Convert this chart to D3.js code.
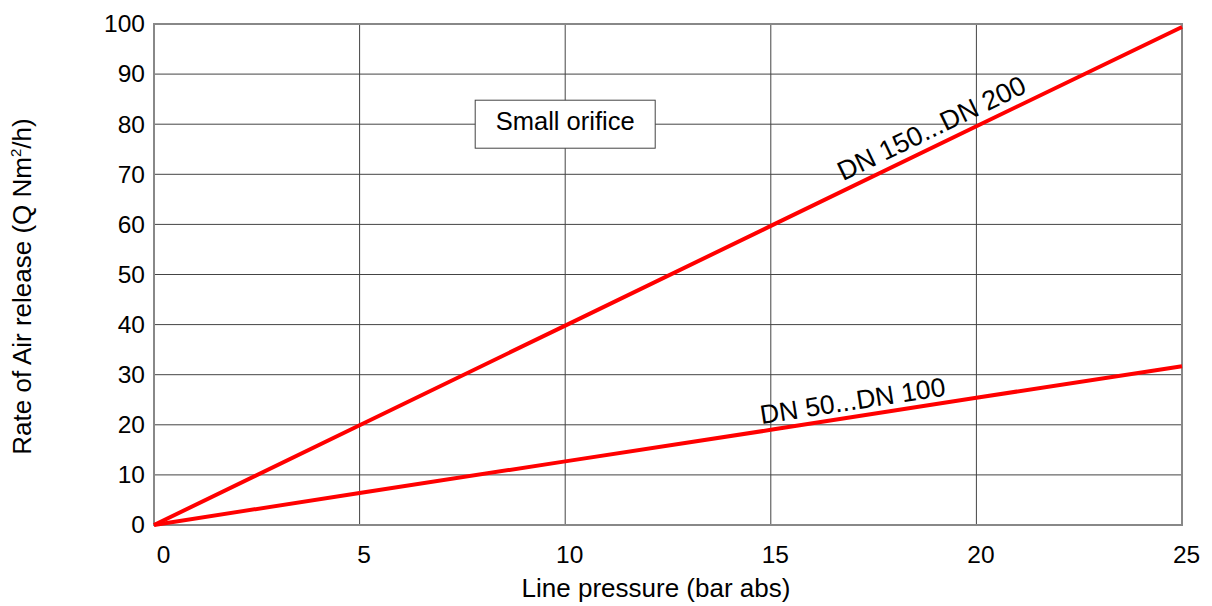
<!DOCTYPE html>
<html>
<head>
<meta charset="utf-8">
<script src="https://cdn.jsdelivr.net/npm/d3@7"></script>
<style>
  body { margin: 0; background: #fff; }
  text { font-family: "Liberation Sans", Arial, sans-serif; fill: #000; }
</style>
</head>
<body>
<div id="chart"></div>
<script>
let width = 1212,
    height = 606

// data
let pressure = [0, 5, 10, 15, 20, 25]
let largeDN = [0, 19.9, 39.8, 59.7, 79.6, 99.4]   // DN 150...DN 200
let smallDN = [0, 6.4, 12.7, 19.0, 25.4, 31.7]    // DN 50...DN 100
let xTicks = [0, 5, 10, 15, 20, 25]
let yTicks = [0, 10, 20, 30, 40, 50, 60, 70, 80, 90, 100]

let margin = {left: 154, right: 30, top: 24, bottom: 81}

let svg = d3.select("#chart").append("svg")
    .attr("width", width)
    .attr("height", height)

let x = d3.scaleLinear()
    .domain([0, 25])
    .range([margin.left, width - margin.right])

let y = d3.scaleLinear()
    .domain([0, 100])
    .range([height - margin.bottom, margin.top])

// grid
svg.append("g")
  .selectAll("line")
  .data(yTicks.slice(1, -1))
  .enter().append("line")
    .attr("x1", x(0)).attr("x2", x(25))
    .attr("y1", d => y(d)).attr("y2", d => y(d))
    .attr("stroke", "#444").attr("stroke-width", 1)

svg.append("g")
  .selectAll("line")
  .data(xTicks.slice(1, -1))
  .enter().append("line")
    .attr("y1", y(0)).attr("y2", y(100))
    .attr("x1", d => x(d)).attr("x2", d => x(d))
    .attr("stroke", "#444").attr("stroke-width", 1)

// frame
svg.append("rect")
    .attr("x", x(0)).attr("y", y(100))
    .attr("width", x(25) - x(0))
    .attr("height", y(0) - y(100))
    .attr("fill", "none")
    .attr("stroke", "#888")
    .attr("stroke-width", 2)

// axes, no domain or tick marks
let yAxis = svg.append("g")
    .attr("transform", "translate(" + x(0) + ",0)")
    .call(d3.axisLeft(y).tickValues(yTicks).tickSize(0).tickPadding(9))
yAxis.select(".domain").remove()
yAxis.selectAll("text")
    .attr("font-size", 24.5)
    .attr("font-family", "Liberation Sans, Arial, sans-serif")
    .attr("fill", "#000")

let xAxis = svg.append("g")
    .attr("transform", "translate(4," + y(0) + ")")
    .call(d3.axisBottom(x).tickValues(xTicks).tickSize(0).tickPadding(21))
xAxis.select(".domain").remove()
xAxis.selectAll("text")
    .attr("font-size", 24.5)
    .attr("font-family", "Liberation Sans, Arial, sans-serif")
    .attr("fill", "#000")
xAxis.selectAll("text").filter(d => d === 0).attr("dx", 5)

// axis titles
svg.append("text")
    .attr("x", (x(0) + x(25)) / 2 - 12)
    .attr("y", 597)
    .attr("text-anchor", "middle")
    .attr("font-size", 26)
    .text("Line pressure (bar abs)")

let ytitle = svg.append("text")
    .attr("transform", "translate(31," + (y(50) + 12) + ") rotate(-90)")
    .attr("text-anchor", "middle")
    .attr("font-size", 26)
ytitle.append("tspan").text("Rate of Air release (Q Nm")
ytitle.append("tspan").attr("dy", -10).attr("font-size", 15).text("2")
ytitle.append("tspan").attr("dy", 10).text("/h)")

// lines
let line = d3.line()
    .x((d, i) => x(pressure[i]))
    .y(d => y(d))

;[largeDN, smallDN].forEach(function(s) {
  svg.append("path")
      .datum(s)
      .attr("d", line)
      .attr("fill", "none")
      .attr("stroke", "#ff0000")
      .attr("stroke-width", 4)
})

// angle of a series on screen
function angle(s) {
  let n = s.length - 1
  return Math.atan2(y(s[n]) - y(s[0]), x(pressure[n]) - x(pressure[0])) * 180 / Math.PI
}

function lineLabel(s, at, gap, size, txt) {
  let v = s[s.length - 1] * at / pressure[pressure.length - 1]
  svg.append("text")
      .attr("transform", "translate(" + x(at) + "," + y(v) + ") rotate(" + angle(s) + ")")
      .attr("y", -gap)
      .attr("text-anchor", "middle")
      .attr("font-size", size)
      .text(txt)
}

lineLabel(largeDN, 19.1, 9, 27, "DN 150...DN 200")
lineLabel(smallDN, 17.05, 7, 26.5, "DN 50...DN 100")

// note box
let bx = x(10), by = y(80)
svg.append("rect")
    .attr("x", bx - 90).attr("y", by - 24)
    .attr("width", 180).attr("height", 48)
    .attr("fill", "#fff")
    .attr("stroke", "#444")
    .attr("stroke-width", 1)
svg.append("text")
    .attr("x", bx).attr("y", by + 6)
    .attr("text-anchor", "middle")
    .attr("font-size", 25.5)
    .text("Small orifice")
</script>
</body>
</html>
